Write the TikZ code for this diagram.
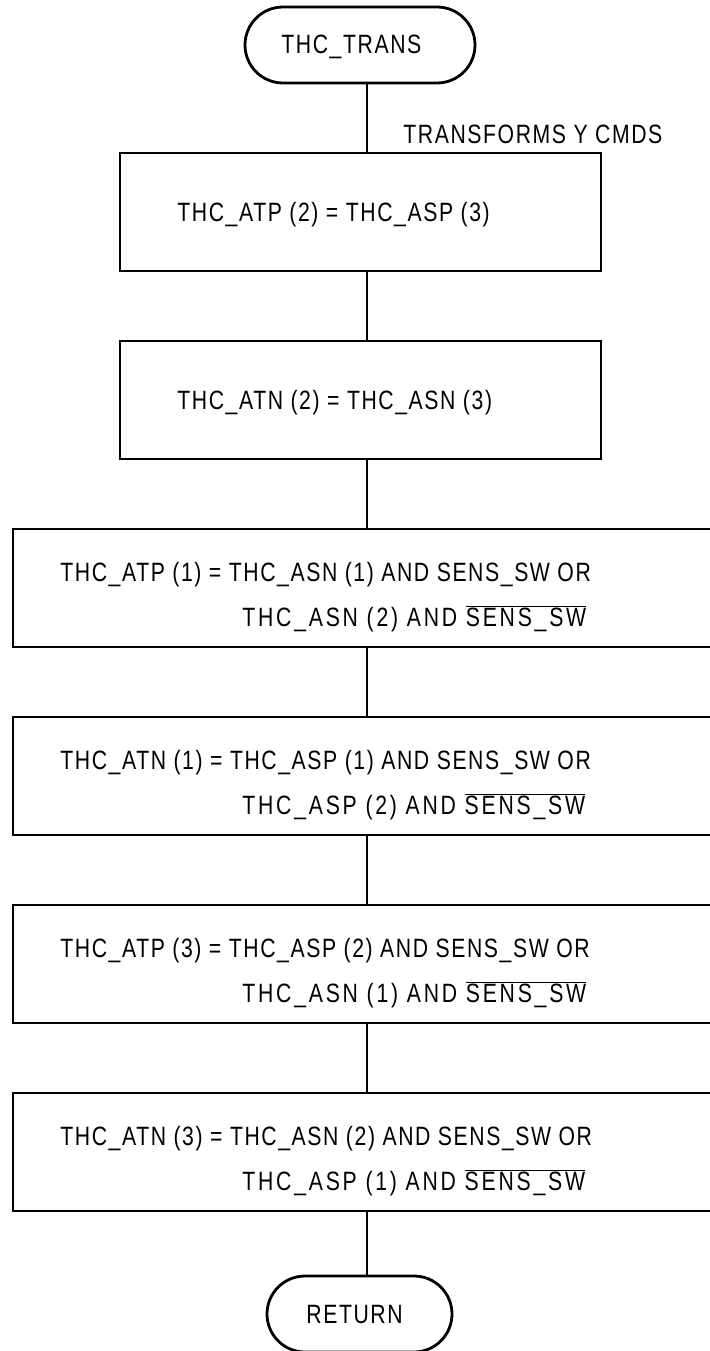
\documentclass[tikz,border=0pt]{standalone}
\usepackage{fontspec}
\setmainfont{Liberation Sans}[FakeStretch=0.8,LetterSpace=6]
\newfontfamily\widefnt{Liberation Sans}[FakeStretch=0.8,LetterSpace=10.5]
\usetikzlibrary{shapes.misc}
\newcommand\ovsw{$\overline{\mbox{SENS\_SW}}$}
\begin{document}
\begin{tikzpicture}[x=1pt,y=-1pt,line width=2.8pt,
  font=\fontsize{26.5}{30}\selectfont,
  term/.style={rounded rectangle,draw,minimum height=76pt,inner sep=0pt},
  proc/.style={rectangle,draw,minimum height=118pt,inner sep=0pt},
  txt/.style={anchor=base west,inner sep=0pt}]
\useasboundingbox (0,0) rectangle (709,1351);
\coordinate (X) at (367,0);
\node[term,minimum width=230pt] (start) at (360,45) {};
\node[txt] (st) at (280,54) {THC\_TRANS};
\node[txt] (note) at (402,144) {TRANSFORMS Y CMDS};
\node[proc,minimum width=481pt] (b1) at (360.5,212) {};
\node[txt] (t1) at (176,221) {THC\_ATP (2) = THC\_ASP (3)};
\node[proc,minimum width=481pt] (b2) at (360.5,400) {};
\node[txt] (t2) at (176,409) {THC\_ATN (2) = THC\_ASN (3)};
\node[proc,minimum width=699pt] (b3) at (362.5,588) {};
\node[txt] (t3a) at (59,581) {THC\_ATP (1) = THC\_ASN (1) AND SENS\_SW OR};
\node[txt] (t3b) at (241,626) {\widefnt THC\_ASN (2) AND \ovsw};
\node[proc,minimum width=699pt] (b4) at (362.5,776) {};
\node[txt] (t4a) at (59,769) {THC\_ATN (1) = THC\_ASP (1) AND SENS\_SW OR};
\node[txt] (t4b) at (241,814) {\widefnt THC\_ASP (2) AND \ovsw};
\node[proc,minimum width=699pt] (b5) at (362.5,964) {};
\node[txt] (t5a) at (59,957) {THC\_ATP (3) = THC\_ASP (2) AND SENS\_SW OR};
\node[txt] (t5b) at (241,1002) {\widefnt THC\_ASN (1) AND \ovsw};
\node[proc,minimum width=699pt] (b6) at (362.5,1152) {};
\node[txt] (t6a) at (59,1145) {THC\_ATN (3) = THC\_ASN (2) AND SENS\_SW OR};
\node[txt] (t6b) at (241,1190) {\widefnt THC\_ASP (1) AND \ovsw};
\node[term,minimum width=185pt] (ret) at (359.5,1314) {};
\node[txt] (rt) at (305,1323) {RETURN};
\draw (start.south -| X) -- (b1.north -| X);
\draw (b1.south -| X) -- (b2.north -| X);
\draw (b2.south -| X) -- (b3.north -| X);
\draw (b3.south -| X) -- (b4.north -| X);
\draw (b4.south -| X) -- (b5.north -| X);
\draw (b5.south -| X) -- (b6.north -| X);
\draw (b6.south -| X) -- (ret.north -| X);
\end{tikzpicture}
\end{document}
